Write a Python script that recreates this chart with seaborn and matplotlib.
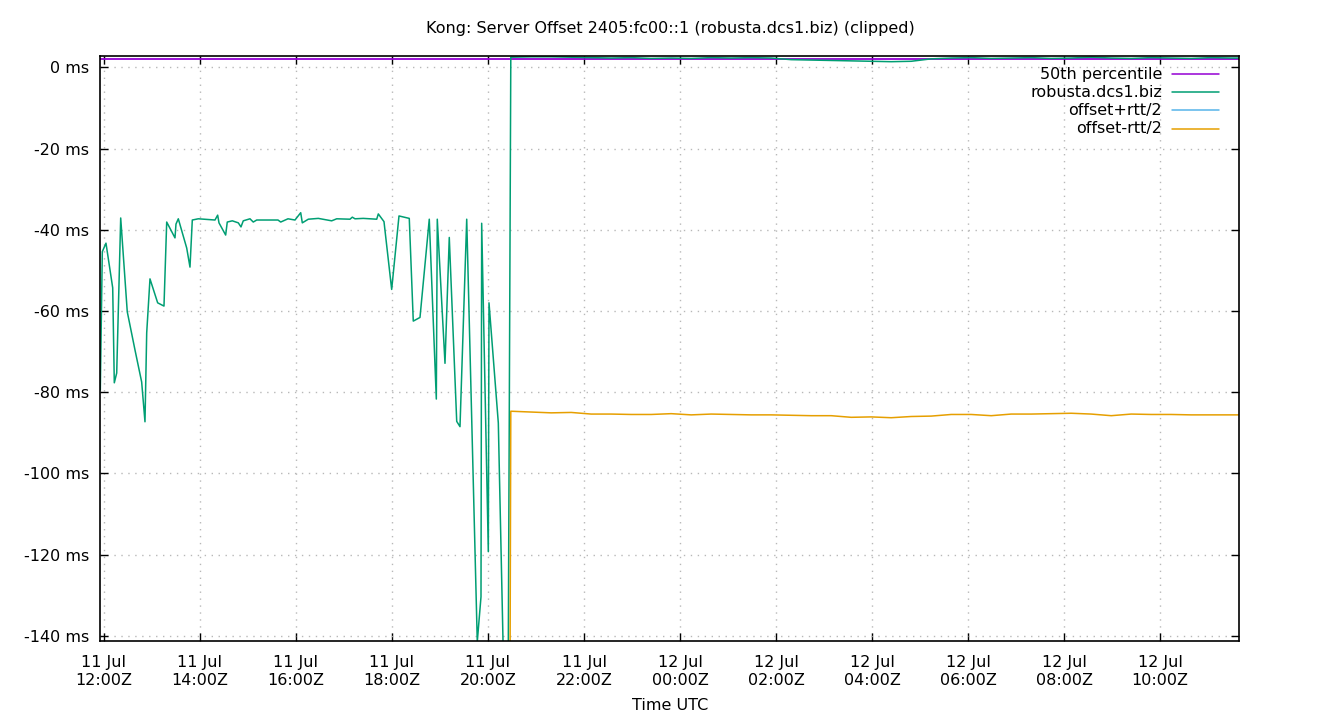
import matplotlib
matplotlib.use("Agg")
import matplotlib.pyplot as plt
import matplotlib.dates as mdates
from matplotlib.ticker import FuncFormatter
import pandas as pd
import seaborn as sns

TITLE = "Kong: Server Offset 2405:fc00::1 (robusta.dcs1.biz) (clipped)"
XLABEL = "Time UTC"
SERIES_NAMES = ["50th percentile", "robusta.dcs1.biz", "offset+rtt/2", "offset-rtt/2"]
COLORS = ["#9400d3", "#009e73", "#56b4e9", "#e69f00"]

# robusta.dcs1.biz offset (ms), before the step at ~20:28
green_times_a = [
    "2023-07-11 11:55:24", "2023-07-11 11:57:54", "2023-07-11 12:02:30", "2023-07-11 12:10:54",
    "2023-07-11 12:12:54", "2023-07-11 12:15:54", "2023-07-11 12:20:54", "2023-07-11 12:29:06",
    "2023-07-11 12:38:45", "2023-07-11 12:47:06", "2023-07-11 12:51:15", "2023-07-11 12:53:24",
    "2023-07-11 12:57:30", "2023-07-11 13:07:06", "2023-07-11 13:15:00", "2023-07-11 13:18:24",
    "2023-07-11 13:28:45", "2023-07-11 13:30:00", "2023-07-11 13:32:54", "2023-07-11 13:43:24",
    "2023-07-11 13:47:30", "2023-07-11 13:50:24", "2023-07-11 13:57:54", "2023-07-11 14:18:45",
    "2023-07-11 14:22:06", "2023-07-11 14:23:45", "2023-07-11 14:32:06", "2023-07-11 14:34:06",
    "2023-07-11 14:40:24", "2023-07-11 14:47:54", "2023-07-11 14:51:15", "2023-07-11 14:54:06",
    "2023-07-11 15:02:30", "2023-07-11 15:06:36", "2023-07-11 15:10:54", "2023-07-11 15:37:30",
    "2023-07-11 15:40:54", "2023-07-11 15:50:00", "2023-07-11 15:58:45", "2023-07-11 16:05:54",
    "2023-07-11 16:07:54", "2023-07-11 16:15:24", "2023-07-11 16:27:54", "2023-07-11 16:44:36",
    "2023-07-11 16:50:54", "2023-07-11 17:07:30", "2023-07-11 17:10:24", "2023-07-11 17:13:45",
    "2023-07-11 17:24:06", "2023-07-11 17:40:54", "2023-07-11 17:42:54", "2023-07-11 17:50:00",
    "2023-07-11 17:59:36", "2023-07-11 18:08:45", "2023-07-11 18:21:36", "2023-07-11 18:26:36",
    "2023-07-11 18:35:00", "2023-07-11 18:46:36", "2023-07-11 18:55:24", "2023-07-11 18:56:36",
    "2023-07-11 19:06:15", "2023-07-11 19:11:36", "2023-07-11 19:20:54", "2023-07-11 19:25:00",
    "2023-07-11 19:33:24", "2023-07-11 19:46:36", "2023-07-11 19:51:15", "2023-07-11 19:52:06",
    "2023-07-11 20:00:24", "2023-07-11 20:01:15", "2023-07-11 20:12:54", "2023-07-11 20:21:54",
    "2023-07-11 20:25:00",
]
green_ms_a = [
    -79.5, -45.4, -43.3, -54.3,
    -77.7, -75.3, -37.1, -60.2,
    -69.6, -77.5, -87.3, -65.4,
    -52.1, -58.0, -58.8, -38.1,
    -42.0, -38.6, -37.3, -44.5,
    -49.2, -37.6, -37.3, -37.6,
    -36.4, -38.3, -41.3, -38.1,
    -37.8, -38.3, -39.3, -37.8,
    -37.3, -38.1, -37.6, -37.6,
    -38.1, -37.3, -37.6, -35.8,
    -38.3, -37.4, -37.2, -37.8,
    -37.3, -37.4, -36.9, -37.3,
    -37.2, -37.4, -36.1, -38.0,
    -54.7, -36.6, -37.2, -62.5,
    -61.6, -37.4, -81.7, -37.4,
    -72.9, -41.9, -87.2, -88.5,
    -37.4, -141.5, -130.4, -38.4,
    -119.3, -58.0, -87.6, -170.0,
    -160.0,
]

# after the step: shared sample times for offset and offset-rtt/2
times_b = [
    "2023-07-11 20:28:30", "2023-07-11 20:54:00", "2023-07-11 21:19:00", "2023-07-11 21:44:00",
    "2023-07-11 22:09:00", "2023-07-11 22:34:00", "2023-07-11 22:59:00", "2023-07-11 23:24:00",
    "2023-07-11 23:49:00", "2023-07-12 00:14:00", "2023-07-12 00:39:00", "2023-07-12 01:04:00",
    "2023-07-12 01:29:00", "2023-07-12 01:54:00", "2023-07-12 02:19:00", "2023-07-12 02:44:00",
    "2023-07-12 03:09:00", "2023-07-12 03:34:00", "2023-07-12 03:59:00", "2023-07-12 04:24:00",
    "2023-07-12 04:49:00", "2023-07-12 05:14:00", "2023-07-12 05:39:00", "2023-07-12 06:04:00",
    "2023-07-12 06:29:00", "2023-07-12 06:54:00", "2023-07-12 07:19:00", "2023-07-12 07:44:00",
    "2023-07-12 08:09:00", "2023-07-12 08:34:00", "2023-07-12 08:59:00", "2023-07-12 09:24:00",
    "2023-07-12 09:49:00", "2023-07-12 10:14:00", "2023-07-12 10:39:00", "2023-07-12 11:04:00",
    "2023-07-12 11:29:00", "2023-07-12 11:38:45",
]
green_ms_b = [
    2.5, 2.6, 2.6, 2.5,
    2.4, 2.3, 2.4, 2.2,
    2.3, 2.2, 2.4, 2.3,
    2.4, 2.3, 1.9, 1.8,
    1.7, 1.6, 1.5, 1.4,
    1.5, 2.1, 2.3, 2.4,
    2.2, 2.3, 2.4, 2.2,
    2.3, 2.5, 2.3, 2.2,
    2.4, 2.3, 2.2, 2.4,
    2.3, 2.3,
]
orange_first_time = "2023-07-11 20:25:00"
orange_first_ms = -320.0
orange_ms_b = [
    -84.7, -84.9, -85.1, -85.0,
    -85.4, -85.4, -85.5, -85.5,
    -85.3, -85.6, -85.4, -85.5,
    -85.6, -85.6, -85.7, -85.8,
    -85.8, -86.2, -86.1, -86.3,
    -86.0, -85.9, -85.5, -85.5,
    -85.8, -85.4, -85.4, -85.3,
    -85.2, -85.4, -85.8, -85.4,
    -85.5, -85.5, -85.6, -85.6,
    -85.6, -85.6,
]
# offset+rtt/2 lies far above the clipped range
blue_times = ["2023-07-11 20:28:30", "2023-07-12 04:00:00", "2023-07-12 11:38:45"]
blue_ms = [89.7, 88.9, 90.1]
# 50th percentile
median_times = ["2023-07-11 11:55:24", "2023-07-12 11:38:45"]
median_ms = [1.97, 1.97]

Y_TICKS = [0, -20, -40, -60, -80, -100, -120, -140]
Y_LIMITS = (-141.3, 2.8)

FMT = "%Y-%m-%d %H:%M:%S"
df_med = pd.DataFrame({"t": pd.to_datetime(median_times, format=FMT), "v": median_ms})
df_green = pd.DataFrame({"t": pd.to_datetime(green_times_a + times_b, format=FMT),
                         "v": green_ms_a + green_ms_b})
df_blue = pd.DataFrame({"t": pd.to_datetime(blue_times, format=FMT), "v": blue_ms})
df_orange = pd.DataFrame({"t": pd.to_datetime([orange_first_time] + times_b, format=FMT),
                          "v": [orange_first_ms] + orange_ms_b})

sns.set_style("ticks")
plt.rcParams["font.family"] = ["DejaVu Sans"]
plt.rcParams["font.size"] = 11.5
plt.rcParams["text.color"] = "black"
plt.rcParams["axes.labelcolor"] = "black"

fig = plt.figure(figsize=(13.4, 7.2), dpi=100)
ax = fig.add_axes([0.07485, 0.10972, 0.8498, 0.8125])

frames = [df_med, df_green, df_blue, df_orange]
widths = [1.3, 1.1, 1.1, 1.1]
for df, col, lw in zip(frames, COLORS, widths):
    sns.lineplot(data=df, x="t", y="v", ax=ax, color=col, linewidth=lw,
                 estimator=None, sort=False, legend=False)

xmin = min(d["t"].min() for d in (df_med, df_green))
xmax = max(d["t"].max() for d in (df_med, df_green))
ax.set_xlim(xmin, xmax)
ax.set_ylim(*Y_LIMITS)

ax.yaxis.set_major_locator(plt.FixedLocator(Y_TICKS))
ax.yaxis.set_major_formatter(FuncFormatter(lambda v, p: f"{v:.0f} ms"))
ax.xaxis.set_major_locator(mdates.HourLocator(byhour=range(0, 24, 2)))
ax.xaxis.set_major_formatter(mdates.DateFormatter("%d %b\n%H:%MZ"))

ax.set_xlabel("")
ax.set_ylabel("")
ax.grid(True, color="#b8b8b8", linestyle=(0, (1, 4)), linewidth=1.0)
ax.tick_params(direction="in", length=5.5, width=1, top=True, right=True,
               labelsize=11.5, pad=8, colors="black")
ax.tick_params(axis="x", pad=10)
for lab in ax.get_xticklabels():
    lab.set_linespacing(1.25)
for s in ax.spines.values():
    s.set_color("black")
    s.set_linewidth(1.2)

fig.text(0.5, 1 - 28 / 720, TITLE, ha="center", va="center", fontsize=11.5, color="black")
fig.text(0.5, 1 - 706 / 720, XLABEL, ha="center", va="center", fontsize=11.5, color="black")

leg_y = [0.969, 0.938, 0.907, 0.876]
for name, col, yy in zip(SERIES_NAMES, COLORS, leg_y):
    ax.text(0.9324, yy, name, transform=ax.transAxes, ha="right", va="center",
            fontsize=11.5, color="black")
    ax.plot([0.9412, 0.9825], [yy, yy], transform=ax.transAxes, color=col, linewidth=1.1)

fig.savefig("out.png", dpi=100, facecolor="white")
